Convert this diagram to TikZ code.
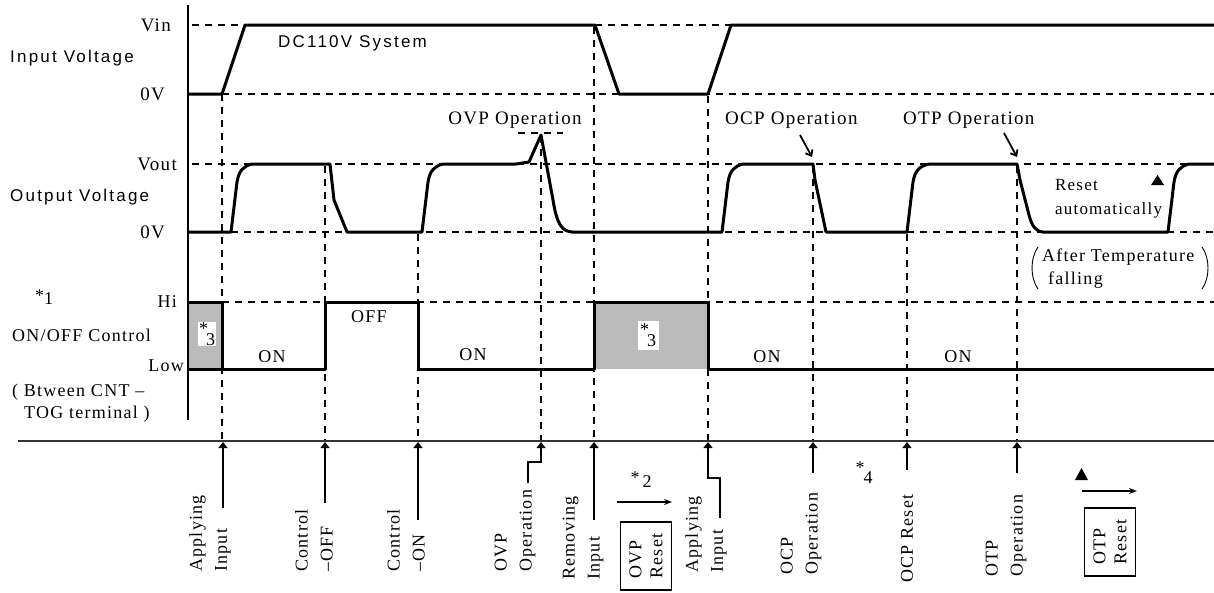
\documentclass[tikz,border=0pt]{standalone}
\usepackage{fontspec}
\setmainfont[LetterSpace=7]{Liberation Serif}
\newfontfamily\gothic[LetterSpace=13]{Liberation Sans}
\usetikzlibrary{arrows.meta}
\begin{document}
\begin{tikzpicture}[x=1pt,y=-1pt,
  every node/.style={inner sep=0pt, font=\fontsize{18}{21}\selectfont},
  sig/.style={line width=3pt, line join=round},
  guide/.style={line width=2.8pt, dash pattern=on 7pt off 6pt},
  hguide/.style={line width=2.8pt, dash pattern=on 7pt off 6pt},
  evarrow/.style={line width=1.3pt, -{Triangle[length=6pt,width=9pt]}},
  pointer/.style={line width=1.8pt, -{Straight Barb[length=5pt,width=8pt]}},
  flow/.style={line width=1.3pt, -{Stealth[length=8pt,width=6pt]}},
  big/.style={font=\fontsize{19}{22}\selectfont},
  blbl/.style={rotate=90, anchor=west, align=left, font=\fontsize{18}{25}\selectfont},
  boxlbl/.style={draw, line width=1.3pt, rotate=90, align=left, minimum width=68pt, minimum height=51pt, font=\fontsize{18}{21}\selectfont},
  gothicf/.style={font=\gothic\fontsize{17}{20}\selectfont},
  undef/.style={fill=black!27},
  star/.style={fill=white, inner sep=1pt}
]
\useasboundingbox (0,0) rectangle (1214,592);

% undefined-state areas
\fill[undef] (188,302) rectangle (222,369);
\fill[undef] (594,302) rectangle (708,369);

% horizontal level guides
\draw[hguide] (192,25) -- (1214,25);
\draw[hguide] (222,94) -- (1214,94);
\draw[hguide] (192,164) -- (1214,164);
\draw[hguide] (231,232) -- (1214,232);
\draw[hguide] (222,302) -- (1214,302);
\draw[hguide] (518,133) -- (563,133);

% event coordinates on the time axis
\coordinate (e1) at (223,442);
\coordinate (e2) at (325,442);
\coordinate (e3) at (418,442);
\coordinate (e4) at (541,442);
\coordinate (e5) at (594,442);
\coordinate (e6) at (708,442);
\coordinate (e7) at (813,442);
\coordinate (e8) at (907,442);
\coordinate (e9) at (1017,442);

% vertical event guides
\draw[guide] (222,94) -- (222,441);
\draw[guide] (325,166) -- (325,441);
\draw[guide] (418,234) -- (418,441);
\draw[guide] (541,136) -- (541,441);
\draw[guide] (594,27) -- (594,441);
\draw[guide] (708,96) -- (708,441);
\draw[guide] (813,166) -- (813,441);
\draw[guide] (907,234) -- (907,441);
\draw[guide] (1017,166) -- (1017,441);

% axes
\draw[line width=1.5pt] (188,5) -- (188,420);
\draw[line width=1.1pt, black!80] (18,441) -- (1214,441);

% input voltage
\draw[sig] (188,94) -- (222,94) -- (245,25) -- (595,25) -- (619,94) -- (708,94) -- (731,25) -- (1214,25);

% output voltage
\draw[sig] (188,232) -- (231,232) -- (237,182) .. controls (239,170) and (244,166) .. (252,164)
  -- (330,164) -- (334,200) -- (347,232) -- (422,232)
  -- (428,182) .. controls (430,170) and (435,166) .. (443,164)
  -- (516,164) -- (529,162) -- (541,135) -- (553,200) .. controls (557,225) and (562,231) .. (572,232)
  -- (722,232) -- (728,182) .. controls (730,170) and (735,166) .. (743,164)
  -- (813,164) -- (815,180) -- (826,232) -- (907,232)
  -- (913,182) .. controls (915,170) and (920,166) .. (929,164)
  -- (1017,164) -- (1020,180) -- (1029,215) .. controls (1032,226) and (1035,231) .. (1043,232)
  -- (1168,232) -- (1174,182) .. controls (1176,170) and (1181,166) .. (1189,164) -- (1214,164);

% on/off control
\draw[sig] (188,302) -- (222,302) -- (222,369) -- (325,369) -- (325,302) -- (418,302) -- (418,369)
  -- (594,369) -- (594,302) -- (708,302) -- (708,369) -- (1214,369);
\draw[sig] (188,369) -- (222,369);

% left labels
\node[big, anchor=east] (vin) at (171,25) {Vin};
\node[gothicf, anchor=west] (inv) at (10,58) {Input Voltage};
\node[big, anchor=east] (in0) at (165,94) {0V};
\node[big, anchor=east] (vout) at (177,164) {Vout};
\node[gothicf, anchor=west] (outv) at (10,197) {Output Voltage};
\node[big, anchor=east] (out0) at (165,232) {0V};
\node (n1) at (44,297) {\raisebox{3pt}{*}1};
\node[anchor=east] (hi) at (177,302) {Hi};
\node[anchor=west] (onoff) at (12,335) {ON/OFF Control};
\node[anchor=east] (low) at (184,366) {Low};
\node[anchor=west] (btw) at (12,392) {( Btween CNT –};
\node[anchor=west] (tog) at (24,414) {TOG terminal )};

% waveform annotations
\node[gothicf, anchor=west] (dc) at (278,43) {DC110V System};
\node[big] (ovp) at (515,120) {OVP Operation};
\node[big, anchor=west] (ocp) at (725,120) {OCP Operation};
\node[big, anchor=west] (otp) at (903,120) {OTP Operation};
\coordinate (ocpT) at (812,157);
\coordinate (otpT) at (1017,157);
\draw[pointer] (800,135) -- (ocpT);
\draw[pointer] (1004,133) -- (otpT);
\node[anchor=west, font=\fontsize{17}{20}\selectfont] (rst1) at (1055,185) {Reset};
\node[anchor=west, font=\fontsize{17}{20}\selectfont] (rst2) at (1055,210) {automatically};
\fill (1151,185) -- (1164,185) -- (1157.5,175) -- cycle;
\node[anchor=west] (aft1) at (1042,257) {After Temperature};
\node[anchor=west] (aft2) at (1048,280) {falling};
\draw[line width=0.9pt] (1038,247) .. controls (1030,258) and (1030,278) .. (1038,289);
\draw[line width=0.9pt] (1202,247) .. controls (1210,258) and (1210,278) .. (1202,289);

% control-state labels
\node (on1) at (272,357) {ON};
\node (off1) at (369,317) {OFF};
\node (on2) at (473,355) {ON};
\node (on3) at (767,357) {ON};
\node (on4) at (958,357) {ON};
\node[star] (s3a) at (207,334) {\raisebox{6pt}{*}\kern-2pt\raisebox{-5pt}{3}};
\node[star, minimum width=21pt, minimum height=29pt] (s3b) at (648,335) {\raisebox{6pt}{*}\kern-2pt\raisebox{-5pt}{3}};

% bottom event labels
\node[blbl] (lApp1) at (210,572) {Applying\\Input};
\node[blbl] (lOff) at (314,572) {Control\\–OFF};
\node[blbl] (lOn) at (406,572) {Control\\–ON};
\node[blbl] (lOvp) at (515,572) {OVP\\Operation};
\node[blbl] (lRem) at (583,580) {Removing\\Input};
\node[boxlbl] (lOvpR) at (646,556) {OVP\\Reset};
\node[blbl] (lApp2) at (706,573) {Applying\\Input};
\node[blbl] (lOcp) at (801,575) {OCP\\Operation};
\node[blbl] (lOcpR) at (907,583) {OCP Reset};
\node[blbl] (lOtp) at (1006,577) {OTP\\Operation};
\node[boxlbl] (lOtpR) at (1110,542) {OTP\\Reset};

% event arrows
\draw[evarrow] (223,508) -- (e1);
\draw[evarrow] (325,503) -- (e2);
\draw[evarrow] (418,520) -- (e3);
\draw[evarrow] (528,483) -- (528,462) -- (541,462) -- (e4);
\draw[evarrow] (594,520) -- (e5);
\draw[evarrow] (720,518) -- (720,478) -- (708,478) -- (e6);
\draw[evarrow] (813,473) -- (e7);
\draw[evarrow] (907,470) -- (e8);
\draw[evarrow] (1017,473) -- (e9);

% notes
\node (n2) at (641,480) {\raisebox{4pt}{*}\,2};
\draw[flow] (617,502) -- (672,502);
\node (n4) at (864,473) {\raisebox{6pt}{*}\kern-1pt\raisebox{-4pt}{4}};
\fill (1075,480) -- (1088,480) -- (1081.5,468) -- cycle;
\draw[flow] (1082,491) -- (1137,491);
\end{tikzpicture}
\end{document}
